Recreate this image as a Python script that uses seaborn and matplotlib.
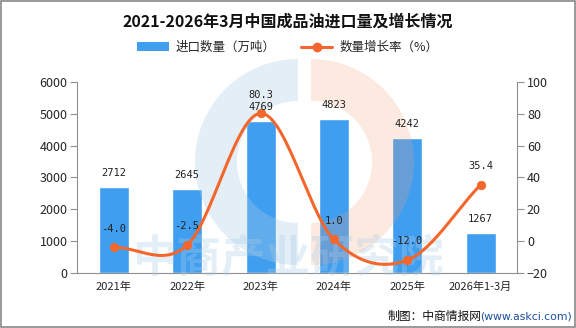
import numpy as np
import pandas as pd
import matplotlib
matplotlib.use("Agg")
import matplotlib.pyplot as plt
import seaborn as sns
from matplotlib.lines import Line2D
from matplotlib.patches import Patch, Rectangle, Wedge

sns.set_style("white")
plt.rcParams['font.family'] = ['Noto Sans CJK SC', 'DejaVu Sans']

categories = ["2021年", "2022年", "2023年", "2024年", "2025年", "2026年1-3月"]
volume = [2712, 2645, 4769, 4823, 4242, 1267]
growth = [-4.0, -2.5, 80.3, 1.0, -12.0, 35.4]

bar_color = "#409ef0"
line_color = "#f3672c"

df = pd.DataFrame({"cat": categories, "vol": volume, "gr": growth, "pos": range(len(categories))})

fig = plt.figure(figsize=(5.76, 3.28), dpi=100)

ax = fig.add_axes([0.134, 0.168, 0.764, 0.582])
ax.patch.set_alpha(0)
sns.barplot(data=df, x="cat", y="vol", color=bar_color, width=0.41, ax=ax, saturation=1)
ax.set_ylim(0, 6000)
ax.set_yticks(range(0, 6001, 1000))
ax.set_xlabel("")
ax.set_ylabel("")
ax.set_xlim(-0.5, len(categories) - 0.5)
ax.set_xticks(np.arange(-0.5, len(categories), 1.0), minor=True)

ax2 = ax.twinx()
ax2.set_ylim(-20, 100)
ax2.set_yticks(range(-20, 101, 20))

# watermark overlay (pixel coordinates), drawn over the bars
wm = fig.add_axes([0, 0, 1, 1], zorder=1.5)
wm.set_xlim(0, 576)
wm.set_ylim(328, 0)
wm.axis("off")
wm.patch.set_alpha(0)
wm.add_patch(Wedge((298, 162), 103, 90, 270, width=42, facecolor="#a9cce6", alpha=0.32, edgecolor="none"))
wm.add_patch(Wedge((311, 162), 103, 270, 90, width=42, facecolor="#f5a27a", alpha=0.22, edgecolor="none"))
wm.text(288, 258, "中商产业研究院", ha="center", va="center", fontsize=32, color="#a9cce6",
        alpha=0.32, fontweight="bold")

# smooth rendering curve (Catmull-Rom through the data points)
xs = np.arange(len(growth), dtype=float)
ys = np.array(growth, dtype=float)
px = np.concatenate([[2 * xs[0] - xs[1]], xs, [2 * xs[-1] - xs[-2]]])
py = np.concatenate([[2 * ys[0] - ys[1]], ys, [2 * ys[-1] - ys[-2]]])
cx, cy = [], []
t = np.linspace(0, 1, 30)
for i in range(1, len(px) - 2):
    p0, p1, p2, p3 = py[i - 1], py[i], py[i + 1], py[i + 2]
    yy = 0.5 * ((2 * p1) + (-p0 + p2) * t + (2 * p0 - 5 * p1 + 4 * p2 - p3) * t ** 2 + (-p0 + 3 * p1 - 3 * p2 + p3) * t ** 3)
    cx.extend(px[i] + t * (px[i + 1] - px[i]))
    cy.extend(yy)
ax2.set_zorder(2)
ax2.patch.set_alpha(0)
ax2.plot(cx, cy, color=line_color, lw=2.2, zorder=3)
sns.scatterplot(data=df, x="pos", y="gr", color=line_color, s=38, edgecolor=line_color, ax=ax2, zorder=4)
ax2.set_xlabel("")
ax2.set_ylabel("")

# spines & ticks
for a in (ax, ax2):
    for s in a.spines.values():
        s.set_visible(False)
ax.spines['left'].set_visible(True)
ax.spines['bottom'].set_visible(True)
ax2.spines['right'].set_visible(True)
for s in ("left", "bottom"):
    ax.spines[s].set_color("#909090")
ax2.spines['right'].set_color("#909090")
ax.tick_params(axis="y", direction="out", length=5, color="#909090", labelsize=9, pad=2)
ax.tick_params(axis="x", which="major", direction="out", length=0, labelsize=8, pad=6)
ax.tick_params(axis="x", which="minor", direction="out", length=5, color="#909090")
ax2.tick_params(axis="y", direction="out", length=5, color="#909090", labelsize=9, pad=2)

# labels
mono = ["DejaVu Sans Mono", "DejaVu Sans"]
for i, v in enumerate(volume):
    yv = 5215 if i == 2 else v + 440
    ax2.text(i, (yv / 6000) * 120 - 20, str(v), ha="center", va="center", fontsize=7.5,
             color="#222222", family=mono, zorder=5)
for i, g in enumerate(growth):
    yg = 91.8 if i == 2 else g + 11.8
    ax2.text(i, yg, f"{g:.1f}", ha="center", va="center", fontsize=7.5, color="#222222",
             family=mono, zorder=5)

# title & legend
fig.text(0.5, 0.935, "2021-2026年3月中国成品油进口量及增长情况", ha="center", va="center",
         fontsize=11.5, fontweight="bold", color="#111111")
handles = [Patch(facecolor=bar_color, edgecolor="none"),
           Line2D([0], [0], color=line_color, lw=2.2, marker="o", markersize=6)]
fig.legend(handles, ["进口数量（万吨）", "数量增长率（%）"], loc="center", bbox_to_anchor=(0.5, 0.855),
           ncol=2, frameon=False, fontsize=9, handlelength=2.5, columnspacing=2, handletextpad=0.6)

# footer
fig.text(0.672, 0.035, "制图：中商情报网", ha="left", va="center", fontsize=8.5, color="#111111")
fig.text(0.834, 0.035, "(www.askci.com)", ha="left", va="center", fontsize=7.8, color="#1a4f9c",
         family=["DejaVu Sans"])

fig.patches.append(Rectangle((0.001, 0.002), 0.997, 0.995, transform=fig.transFigure, fill=False,
                             edgecolor="#888888", lw=1.2))
fig.savefig("out.png", dpi=100)
